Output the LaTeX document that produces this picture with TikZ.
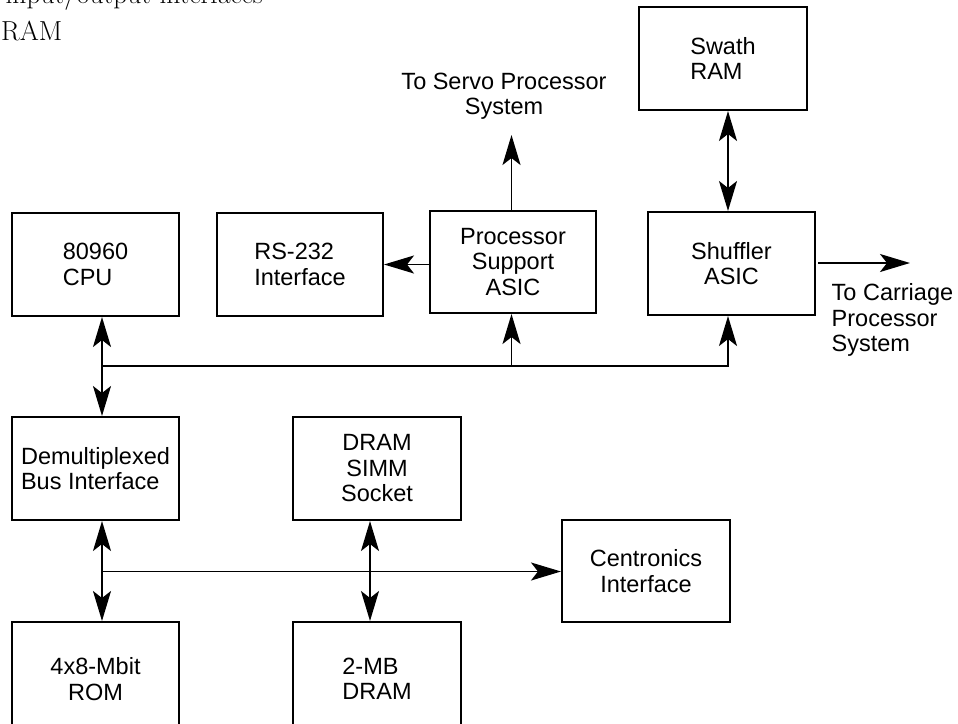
\documentclass[tikz,border=0pt]{standalone}
\usepackage{fontspec}
\newfontfamily\arialf{Liberation Sans}
\usetikzlibrary{arrows.meta}
\begin{document}
\begin{tikzpicture}[x=1pt,y=-1pt,
  box/.style={draw, line width=2pt, inner sep=0pt, minimum height=103pt,
    font={\arialf\fontsize{23.5pt}{25.5pt}\selectfont}},
  lbl/.style={inner sep=0pt, font={\arialf\fontsize{23.5pt}{25.5pt}\selectfont}},
  serif/.style={inner sep=0pt, font={\fontsize{27.5pt}{32pt}\selectfont}},
  conn/.style={line width=1.9pt},
  tip/.style={Stealth[length=30pt,width=18pt,inset=7pt]},
  arr/.style={conn, -{Stealth[length=30pt,width=18pt,inset=7pt]}},
  dbl/.style={conn, {Stealth[length=30pt,width=18pt,inset=7pt]}-{Stealth[length=30pt,width=18pt,inset=7pt]}}
]
\useasboundingbox (0,0) rectangle (958,723);
\clip (0,0) rectangle (958,723);
\fill[white] (0,0) rectangle (958,723);

% partial text at top (cut by the picture's top edge, as in the reference)
\node[serif, anchor=base east] (t1) at (263,3) {input/output interfaces};
\node[serif, anchor=base west] (t2) at (1,40) {RAM};

% boxes
\node[box, minimum width=167pt, align=left]   (cpu)   at (95.5,264.5) {80960\\CPU};
\node[box, minimum width=166pt, align=left]   (rs)    at (300,264.5)  {RS-232\\Interface};
\node[box, minimum width=166pt, minimum height=102pt, align=center] (psa) at (513,262) {Processor\\Support\\ASIC};
\node[box, minimum width=167pt, align=center] (shuf)  at (731.5,263.5) {Shuffler\\ASIC};
\node[box, minimum width=168pt, align=left]   (swath) at (723,58.5)   {Swath\\RAM};
\node[box, minimum width=167pt, align=left]   (demux) at (95.5,468.5) {Demultiplexed\\Bus Interface};
\node[box, minimum width=168pt, align=center] (simm)  at (377,468.5)  {DRAM\\SIMM\\Socket};
\node[box, minimum width=168pt, minimum height=102pt, align=center] (cent) at (646,571) {Centronics\\Interface};
\node[box, minimum width=167pt, minimum height=114pt, align=center] (rom)  at (95.5,679) {4x8-Mbit\\ROM};
\node[box, minimum width=168pt, minimum height=114pt, align=left]   (dram) at (377,679)  {2-MB\\DRAM};

% free labels
\node[lbl, anchor=north, align=center] (servo) at (504,72.5) {To Servo Processor\\System};
\node[lbl, anchor=north west, align=left] (carr) at (831.5,283.5) {To Carriage\\Processor\\System};

% junction coordinates
\coordinate (j1) at (102,366);
\coordinate (j2) at (511.5,366);
\coordinate (j3) at (728,366);
\coordinate (j4) at (102,571.5);
\coordinate (j5) at (370,571.5);
\coordinate (stip) at (511.5,135);
\coordinate (ctip) at (910,263);

% connectors
\draw[dbl] (cpu.south -| j1) -- (demux.north -| j1);
\draw[conn] (j1) -- (j2);
\draw[arr] (j2) -- (j3) -- (shuf.south -| j3);
\draw[arr] (j2) -- (psa.south -| j2);
\draw[arr] (psa.north -| stip) -- (stip);
\draw[arr] (psa.west |- rs.east) -- (rs.east);
\draw[dbl] (swath.south -| j3) -- (shuf.north -| j3);
\draw[arr, shorten <=2pt] (shuf.east |- ctip) -- (ctip);
\draw[dbl] (demux.south -| j1) -- (rom.north -| j1);
\draw[arr] (j4) -- (cent.west |- j4);
\draw[dbl] (simm.south -| j5) -- (dram.north -| j5);
\end{tikzpicture}
\end{document}
